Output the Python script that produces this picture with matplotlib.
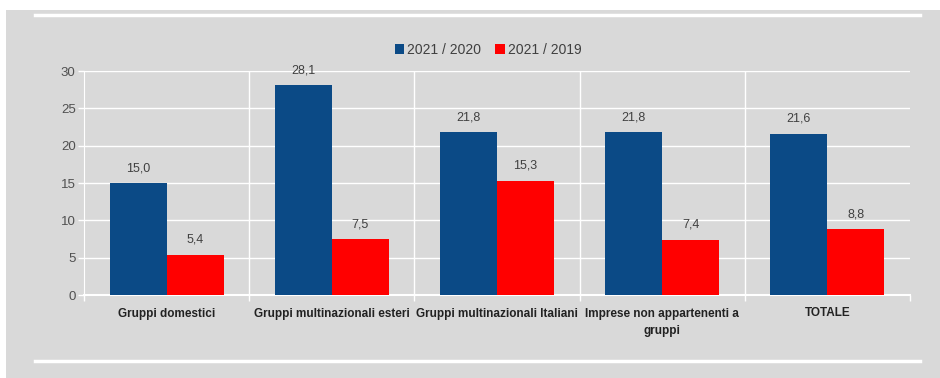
import matplotlib.pyplot as plt
import numpy as np
from matplotlib.patches import Rectangle

categories = ["Gruppi domestici", "Gruppi multinazionali esteri",
              "Gruppi multinazionali Italiani", "Imprese non appartenenti a\ngruppi",
              "TOTALE"]
series_names = ["2021 / 2020", "2021 / 2019"]
v_2020 = [15.0, 28.1, 21.8, 21.8, 21.6]
v_2019 = [5.4, 7.5, 15.3, 7.4, 8.8]
colors = ["#0b4a86", "#ff0000"]

plt.rcParams['font.family'] = ['Liberation Sans', 'DejaVu Sans']

fig = plt.figure(figsize=(9.4, 3.78), dpi=100, facecolor="white")
# gray panel and white rules
fig.patches.append(Rectangle((6/940, 0), 1, 1 - 10/378, transform=fig.transFigure,
                             facecolor="#d9d9d9", edgecolor="none", zorder=-10))
fig.add_artist(plt.Line2D([35/940, 920/940], [1 - 15/378, 1 - 15/378],
                          transform=fig.transFigure, color="white", lw=2.5))
fig.add_artist(plt.Line2D([35/940, 920/940], [1 - 361/378, 1 - 361/378],
                          transform=fig.transFigure, color="white", lw=2.5))

ax = fig.add_axes([84/940, 1 - 295/378, (910 - 84)/940, (295 - 71)/378])
ax.set_facecolor("none")
ax.set_zorder(5)

x = np.arange(len(categories))
w = 0.345
b1 = ax.bar(x - w/2, v_2020, w, color=colors[0], label=series_names[0], zorder=3)
b2 = ax.bar(x + w/2, v_2019, w, color=colors[1], label=series_names[1], zorder=3)

for bars, vals in ((b1, v_2020), (b2, v_2019)):
    for r, v in zip(bars, vals):
        ax.text(r.get_x() + r.get_width()/2, v + 1.2, f"{v:.1f}".replace(".", ","),
                ha="center", va="bottom", fontsize=9, color="#404040")

ax.set_xlim(-0.5, len(categories) - 0.5)
ax.set_ylim(0, 30)
ax.set_yticks(np.arange(0, 31, 5))
ax.yaxis.grid(True, color="white", lw=1, zorder=1)
for b in np.arange(0.5, len(categories) - 0.5, 1):
    ax.axvline(b, color="white", lw=1, zorder=1)

ax.set_xticks(x)
ax.set_xticklabels(categories, fontsize=8.5, fontweight="bold", color="#222222",
                   linespacing=1.6, va="top")
ax.set_xticks(np.arange(-0.5, len(categories), 1), minor=True)
ax.tick_params(axis="x", which="major", length=0, pad=9)
ax.tick_params(axis="x", which="minor", length=4, color="white", width=1)
ax.tick_params(axis="y", length=4, color="white", width=1, labelsize=9.5,
               labelcolor="#505050", pad=2)

for s in ["top", "right"]:
    ax.spines[s].set_visible(False)
ax.spines["left"].set_color("white")
ax.spines["bottom"].set_color("white")
ax.spines["bottom"].set_linewidth(1.5)

leg = fig.legend(loc="center", bbox_to_anchor=(488/940, 1 - 50/378), ncol=2,
                 frameon=False, fontsize=10, handlelength=0.7, handleheight=0.7,
                 handletextpad=0.2, columnspacing=1.0)
for t in leg.get_texts():
    t.set_color("#404040")

fig.savefig("out.png", dpi=100, facecolor=fig.get_facecolor())
